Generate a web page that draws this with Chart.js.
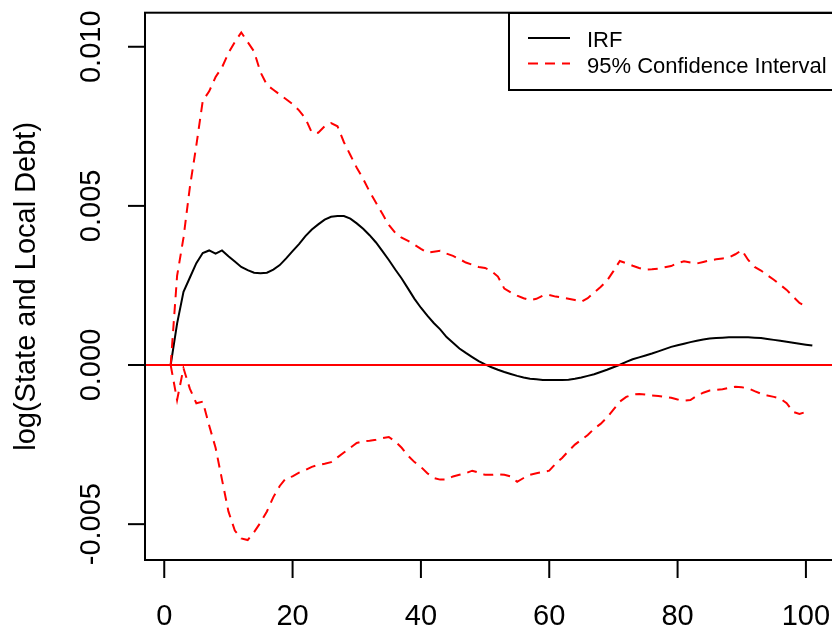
<!DOCTYPE html>
<html>
<head>
<meta charset="utf-8">
<script src="https://cdn.jsdelivr.net/npm/chart.js@4/dist/chart.umd.min.js"></script>
<style>
  html, body { margin: 0; padding: 0; background: #fff; overflow: hidden; width: 832px; height: 628px; }
  #wrap { position: absolute; left: 0; top: 0; width: 850px; height: 628px; }
</style>
</head>
<body>
<div id="wrap"><canvas id="c" width="850" height="628" style="width:850px;height:628px"></canvas></div>
<script>
// ---- data ----
const horizonIRF = [1,2,3,4,5,6,7,8,9,10,11,12,13,14,15,16,17,18,19,20,21,22,23,24,25,26,27,28,29,30,31,32,33,34,35,36,37,38,39,40,41,42,43,44,45,46,47,48,49,50,51,52,53,54,55,56,57,58,59,60,61,62,63,64,65,66,67,68,69,70,71,72,73,74,75,76,77,78,79,80,81,82,83,84,85,86,87,88,89,90,91,92,93,94,95,96,97,98,99,100,101];
const irf = [0,0.0013,0.0023,0.00275,0.0032,0.00352,0.0036,0.0035,0.0036,0.00342,0.00325,0.00308,0.00298,0.0029,0.00288,0.0029,0.003,0.00314,0.00335,0.00358,0.0038,0.00405,0.00426,0.00442,0.00457,0.00466,0.00468,0.00468,0.0046,0.00445,0.00428,0.00408,0.00385,0.00358,0.0033,0.003,0.00272,0.0024,0.00208,0.0018,0.00155,0.00132,0.00112,0.00088,0.0007,0.00052,0.00038,0.00025,0.00012,0.00002,-0.00007,-0.00015,-0.00022,-0.00028,-0.00034,-0.00039,-0.00043,-0.00045,-0.00047,-0.00047,-0.00047,-0.00047,-0.00046,-0.00043,-0.00039,-0.00034,-0.00029,-0.00022,-0.00015,-0.00007,0.00001,0.0001,0.00018,0.00024,0.0003,0.00036,0.00043,0.0005,0.00057,0.00062,0.00067,0.00072,0.00076,0.0008,0.00083,0.00085,0.00086,0.00087,0.00087,0.00087,0.00087,0.00086,0.00085,0.00082,0.00079,0.00076,0.00073,0.0007,0.00067,0.00064,0.00061];
const horizonCI = [1,2,3,4,5,6,7,8,9,10,11,12,13,14,15,16,17,18,19,20,21,22,23,24,25,26,27,28,29,30,31,32,33,34,35,36,37,38,39,40,41,42,43,44,45,46,47,48,49,50,51,52,53,54,55,56,57,58,59,60,61,62,63,64,65,66,67,68,69,70,71,72,73,74,75,76,77,78,79,80,81,82,83,84,85,86,87,88,89,90,91,92,93,94,95,96,97,98,99,100];
const ciUpper = [0,0.0028,0.004,0.0056,0.0069,0.0083,0.0086,0.00905,0.00935,0.0098,0.01015,0.01045,0.01015,0.00985,0.0092,0.0088,0.00865,0.0085,0.00835,0.0082,0.008,0.00775,0.0073,0.0073,0.0075,0.0076,0.0075,0.007,0.0066,0.0062,0.00585,0.00545,0.0051,0.00475,0.0044,0.00415,0.004,0.0039,0.00378,0.00365,0.00353,0.00356,0.00359,0.0035,0.00343,0.00333,0.00322,0.00315,0.00308,0.00305,0.00295,0.00278,0.0024,0.00228,0.00218,0.0021,0.00204,0.00208,0.00218,0.0022,0.00215,0.00212,0.00208,0.00204,0.00199,0.0021,0.00228,0.00245,0.00265,0.00295,0.00327,0.0032,0.00312,0.00305,0.003,0.00301,0.00303,0.00307,0.00311,0.0032,0.00326,0.00322,0.00319,0.00324,0.00329,0.00332,0.00335,0.00338,0.00348,0.00361,0.0033,0.00308,0.00297,0.00282,0.00268,0.00252,0.00236,0.00215,0.00195,0.00185];
const ciLower = [0,-0.0011,-0.0001,-0.00075,-0.0012,-0.00115,-0.0019,-0.0026,-0.0036,-0.0046,-0.0052,-0.00545,-0.0055,-0.00525,-0.00495,-0.0046,-0.00415,-0.0038,-0.00355,-0.0035,-0.00338,-0.0033,-0.0032,-0.00314,-0.0031,-0.00305,-0.0029,-0.00275,-0.0026,-0.00245,-0.0024,-0.00238,-0.00235,-0.0023,-0.00226,-0.0024,-0.0026,-0.00285,-0.00305,-0.0032,-0.0034,-0.00355,-0.0036,-0.0036,-0.0035,-0.00345,-0.0034,-0.00332,-0.00338,-0.00345,-0.00345,-0.00343,-0.00345,-0.0035,-0.00367,-0.00355,-0.00345,-0.0034,-0.00336,-0.00332,-0.0031,-0.00292,-0.0027,-0.0025,-0.00235,-0.0022,-0.002,-0.00185,-0.00165,-0.0014,-0.00115,-0.001,-0.00093,-0.00091,-0.00093,-0.00096,-0.00097,-0.001,-0.00103,-0.00108,-0.00112,-0.0011,-0.00097,-0.00087,-0.0008,-0.00078,-0.00076,-0.00072,-0.00068,-0.0007,-0.00073,-0.00082,-0.0009,-0.00096,-0.001,-0.00105,-0.0012,-0.00147,-0.00154,-0.00147];
const zeroLineX = [-3, 105];
const zeroLineY = [0, 0];
const xTicks = [0, 20, 40, 60, 80, 100];
const xTickLabels = ['0', '20', '40', '60', '80', '100'];
const yTicks = [-0.005, 0, 0.005, 0.010];
const yTickLabels = ['-0.005', '0.000', '0.005', '0.010'];
const yTitle = 'log(State and Local Debt)';
const legendLabels = ['IRF', '95% Confidence Interval'];

const FONT = '"Liberation Sans", Arial, sans-serif';
const DASH = [10, 7];

function pts(xs, ys) { return xs.map((x, i) => ({ x: x, y: ys[i] })); }

const rStyle = {
  id: 'rStyle',
  afterDatasetsDraw(chart) {
    const ctx = chart.ctx;
    const a = chart.chartArea;
    const xs = chart.scales.x, ys = chart.scales.y;
    ctx.save();
    // box
    ctx.strokeStyle = '#000';
    ctx.lineWidth = 2;
    ctx.setLineDash([]);
    ctx.strokeRect(a.left, a.top, a.right - a.left, a.bottom - a.top);
    // x ticks
    ctx.fillStyle = '#000';
    ctx.font = '29px ' + FONT;
    ctx.textAlign = 'center';
    ctx.textBaseline = 'alphabetic';
    xTicks.forEach((v, i) => {
      const px = xs.getPixelForValue(v);
      ctx.beginPath();
      ctx.moveTo(px, a.bottom);
      ctx.lineTo(px, a.bottom + 18);
      ctx.stroke();
      ctx.fillText(xTickLabels[i], px, 625);
    });
    // y ticks
    yTicks.forEach((v, i) => {
      const py = ys.getPixelForValue(v);
      ctx.beginPath();
      ctx.moveTo(a.left, py);
      ctx.lineTo(a.left - 17, py);
      ctx.stroke();
      ctx.save();
      ctx.translate(100, py);
      ctx.rotate(-Math.PI / 2);
      ctx.fillText(yTickLabels[i], 0, 0);
      ctx.restore();
    });
    // y title
    ctx.save();
    ctx.translate(35, (a.top + a.bottom) / 2);
    ctx.rotate(-Math.PI / 2);
    ctx.fillText(yTitle, 0, 0);
    ctx.restore();
    // legend
    const lx = 509, ly = 13, lw = 340, lh = 77;
    ctx.fillStyle = '#fff';
    ctx.fillRect(lx, ly, lw, lh);
    ctx.strokeStyle = '#000';
    ctx.lineWidth = 2;
    ctx.strokeRect(lx, ly, lw, lh);
    ctx.lineWidth = 2;
    ctx.beginPath();
    ctx.strokeStyle = '#000';
    ctx.moveTo(528, 38); ctx.lineTo(570, 38);
    ctx.stroke();
    ctx.beginPath();
    ctx.strokeStyle = '#ff0000';
    ctx.setLineDash(DASH);
    ctx.moveTo(528, 63.5); ctx.lineTo(570, 63.5);
    ctx.stroke();
    ctx.setLineDash([]);
    ctx.fillStyle = '#000';
    ctx.font = '22px ' + FONT;
    ctx.textAlign = 'left';
    ctx.fillText(legendLabels[0], 587, 46.5);
    ctx.fillText(legendLabels[1], 587, 72.5);
    ctx.restore();
  }
};

new Chart(document.getElementById('c'), {
  type: 'line',
  data: {
    datasets: [
      { label: 'zero', data: pts(zeroLineX, zeroLineY), borderColor: '#ff0000', borderWidth: 2, pointRadius: 0, order: 0 },
      { label: 'upper', data: pts(horizonCI, ciUpper), borderColor: '#ff0000', borderWidth: 2, borderDash: DASH, pointRadius: 0, order: 1 },
      { label: 'lower', data: pts(horizonCI, ciLower), borderColor: '#ff0000', borderWidth: 2, borderDash: DASH, pointRadius: 0, order: 1 },
      { label: 'IRF', data: pts(horizonIRF, irf), borderColor: '#000', borderWidth: 2, pointRadius: 0, order: 2 }
    ]
  },
  options: {
    responsive: false,
    animation: false,
    devicePixelRatio: 1,
    layout: { padding: { left: 145, right: 12, top: 12.7, bottom: 68 } },
    elements: { line: { tension: 0, fill: false } },
    plugins: { legend: { display: false }, tooltip: { enabled: false } },
    scales: {
      x: { type: 'linear', display: false, min: -3, max: 105 },
      y: { type: 'linear', display: false, min: -0.006126, max: 0.01107 }
    }
  },
  plugins: [rStyle]
});
</script>
</body>
</html>
